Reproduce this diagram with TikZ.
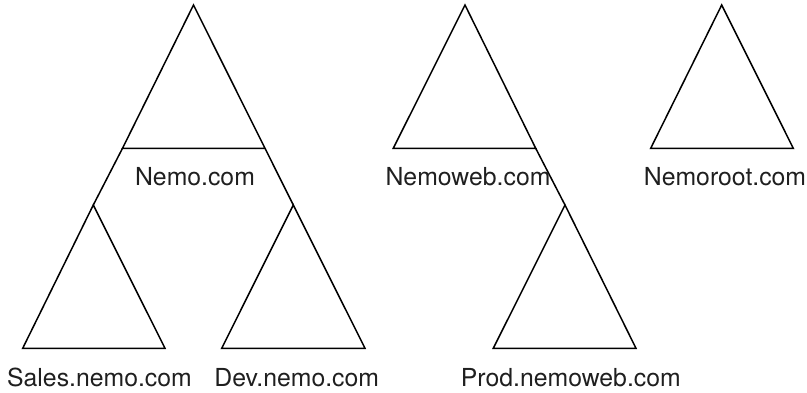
\documentclass[tikz,border=0pt]{standalone}
\usepackage{fontspec}
\setmainfont{TeX Gyre Heros}
\begin{document}
\begin{tikzpicture}[x=1pt,y=-1pt,
  tri/.style={draw=black,line width=1.5pt,line join=miter},
  link/.style={draw=black,line width=1.5pt},
  lbl/.style={anchor=base,inner sep=0pt,text=black!88,font=\fontsize{24.8}{29}\selectfont}]
\useasboundingbox (0,0) rectangle (807,393);
% Nemo.com
\coordinate (nA) at (193.5,5);
\coordinate (nL) at (122.5,148.3);
\coordinate (nR) at (265,148.3);
% Sales
\coordinate (sA) at (93.3,205);
\coordinate (sL) at (22.7,348.3);
\coordinate (sR) at (165,348.3);
% Dev
\coordinate (dA) at (293.3,205);
\coordinate (dL) at (221.7,348.3);
\coordinate (dR) at (365,348.3);
% Nemoweb
\coordinate (wA) at (465,5);
\coordinate (wL) at (393.3,148.3);
\coordinate (wR) at (535.7,148.3);
% Prod
\coordinate (pA) at (565,205);
\coordinate (pL) at (493.3,348.3);
\coordinate (pR) at (636,348.3);
% Nemoroot
\coordinate (rA) at (721.7,5);
\coordinate (rL) at (650.7,148.3);
\coordinate (rR) at (793.3,148.3);

\draw[tri] (nA) -- (nL) -- (nR) -- cycle;
\draw[tri] (sA) -- (sL) -- (sR) -- cycle;
\draw[tri] (dA) -- (dL) -- (dR) -- cycle;
\draw[tri] (wA) -- (wL) -- (wR) -- cycle;
\draw[tri] (pA) -- (pL) -- (pR) -- cycle;
\draw[tri] (rA) -- (rL) -- (rR) -- cycle;

\draw[link] (nL) -- (sA);
\draw[link] (nR) -- (dA);
\draw[link] (wR) -- (pA);

\node[lbl] (nemo) at (195,186) {Nemo.com};
\node[lbl] (nemoweb) at (468,186) {Nemoweb.com};
\node[lbl] (nemoroot) at (725,186) {Nemoroot.com};
\node[lbl] (sales) at (99.5,386.7) {Sales.nemo.com};
\node[lbl] (dev) at (296.7,386.7) {Dev.nemo.com};
\node[lbl] (prod) at (570.8,386.7) {Prod.nemoweb.com};
\end{tikzpicture}
\end{document}
